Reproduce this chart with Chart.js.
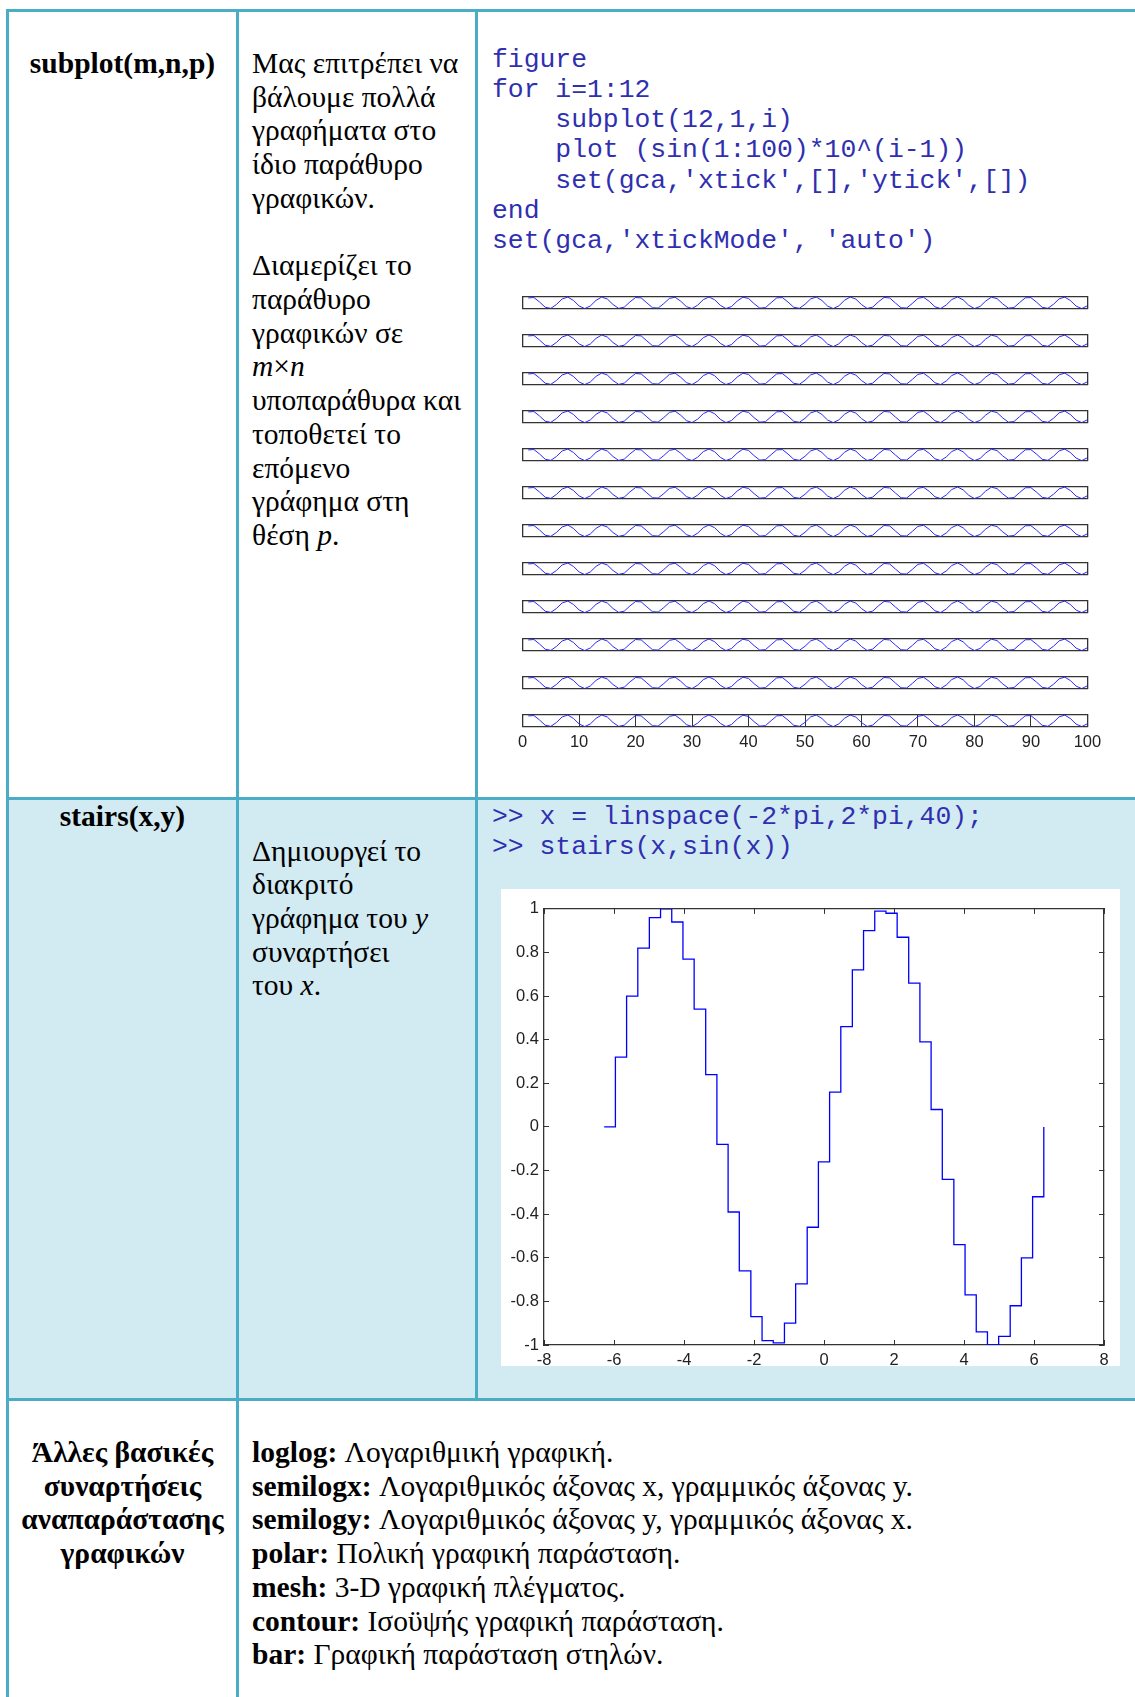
<!DOCTYPE html>
<html>
<head>
<meta charset="utf-8">
<script src="https://cdn.jsdelivr.net/npm/chart.js@4.4.0/dist/chart.umd.min.js"></script>
<style>
body { margin: 0; width: 1135px; height: 1697px; position: relative; overflow: hidden; background: #fff; font-family: "Liberation Serif", "Times New Roman", serif; color: #000; }
.bar { position: absolute; background: #4bacc6; }
.txt { position: absolute; font-size: 29.5px; line-height: 33.72px; white-space: nowrap; }
.ctr { text-align: center; font-weight: bold; }
.code { position: absolute; margin: 0; font-family: "Liberation Mono", "Courier New", monospace; font-size: 26.4px; line-height: 30.3px; color: #2f2fb0; white-space: pre; }
canvas { position: absolute; }
</style>
</head>
<body>
<div class="bar" style="left:9px;top:800px;width:1126px;height:598px;background:#d2eaf1"></div>
<div class="bar" style="left:6px;top:9px;width:1129px;height:3px"></div>
<div class="bar" style="left:6px;top:797px;width:1129px;height:3px"></div>
<div class="bar" style="left:6px;top:1398px;width:1129px;height:3px"></div>
<div class="bar" style="left:6px;top:9px;width:3px;height:1688px"></div>
<div class="bar" style="left:236px;top:9px;width:3px;height:1688px"></div>
<div class="bar" style="left:475px;top:9px;width:3px;height:1391px"></div>

<div class="txt ctr" style="left:9px;width:227px;top:47px">subplot(m,n,p)</div>
<div class="txt" style="left:252px;top:47px">Μας επιτρέπει να<br>βάλουμε πολλά<br>γραφήματα στο<br>ίδιο παράθυρο<br>γραφικών.<br><br>Διαμερίζει το<br>παράθυρο<br>γραφικών σε<br><i>m</i>×<i>n</i><br>υποπαράθυρα και<br>τοποθετεί το<br>επόμενο<br>γράφημα στη<br>θέση <i>p</i>.</div>
<pre class="code" style="left:492px;top:44.5px">figure
for i=1:12
    subplot(12,1,i)
    plot (sin(1:100)*10^(i-1))
    set(gca,'xtick',[],'ytick',[])
end
set(gca,'xtickMode', 'auto')</pre>

<div class="txt ctr" style="left:9px;width:227px;top:800px">stairs(x,y)</div>
<div class="txt" style="left:252px;top:834.6px">Δημιουργεί το<br>διακριτό<br>γράφημα του <i>y</i><br>συναρτήσει<br>του <i>x</i>.</div>
<pre class="code" style="left:492px;top:802px">&gt;&gt; x = linspace(-2*pi,2*pi,40);
&gt;&gt; stairs(x,sin(x))</pre>
<div class="bar" style="left:501px;top:889px;width:619px;height:477px;background:#fff"></div>
<canvas id="stairs" width="619" height="483" style="left:501px;top:889px"></canvas>

<div class="txt ctr" style="left:9px;width:227px;top:1436px">Άλλες βασικές<br>συναρτήσεις<br>αναπαράστασης<br>γραφικών</div>
<div class="txt" style="left:252px;top:1436px"><b>loglog:</b> Λογαριθμική γραφική.<br><b>semilogx:</b> Λογαριθμικός άξονας x, γραμμικός άξονας y.<br><b>semilogy:</b> Λογαριθμικός άξονας y, γραμμικός άξονας x.<br><b>polar:</b> Πολική γραφική παράσταση.<br><b>mesh:</b> 3-D γραφική πλέγματος.<br><b>contour:</b> Ισοϋψής γραφική παράσταση.<br><b>bar:</b> Γραφική παράσταση στηλών.</div>

<script>
// sin(1:100), same shape in all 12 subplots (axes autoscale the 10^(i-1) factor)
const sinVals = [
  0.84, 0.91, 0.14, -0.76, -0.96, -0.28, 0.66, 0.99, 0.41, -0.54,
  -1.00, -0.54, 0.42, 0.99, 0.65, -0.29, -0.96, -0.75, 0.15, 0.91,
  0.84, -0.01, -0.85, -0.91, -0.13, 0.76, 0.96, 0.27, -0.66, -0.99,
  -0.40, 0.55, 1.00, 0.53, -0.43, -0.99, -0.64, 0.30, 0.96, 0.75,
  -0.16, -0.92, -0.83, 0.02, 0.85, 0.90, 0.12, -0.77, -0.95, -0.26,
  0.67, 0.99, 0.40, -0.56, -1.00, -0.52, 0.44, 0.99, 0.64, -0.30,
  -0.97, -0.74, 0.17, 0.92, 0.83, -0.03, -0.86, -0.90, -0.11, 0.77,
  0.95, 0.25, -0.68, -0.99, -0.39, 0.57, 1.00, 0.51, -0.44, -0.99,
  -0.63, 0.31, 0.97, 0.73, -0.18, -0.92, -0.82, 0.04, 0.86, 0.89,
  0.11, -0.78, -0.95, -0.25, 0.68, 0.98, 0.38, -0.57, -1.00, -0.51
];
const subplotCount = 12;
const subplotTicks = [0, 10, 20, 30, 40, 50, 60, 70, 80, 90, 100];

const stairX = [-6.28, -5.96, -5.64, -5.32, -4.99, -4.67, -4.35, -4.03, -3.71, -3.38,
  -3.06, -2.74, -2.42, -2.09, -1.77, -1.45, -1.13, -0.81, -0.48, -0.16,
  0.16, 0.48, 0.81, 1.13, 1.45, 1.77, 2.09, 2.42, 2.74, 3.06,
  3.38, 3.71, 4.03, 4.35, 4.67, 4.99, 5.32, 5.64, 5.96, 6.28];
const stairY = [0, 0.32, 0.60, 0.82, 0.96, 1.00, 0.94, 0.77, 0.54, 0.24,
  -0.08, -0.39, -0.66, -0.87, -0.98, -0.99, -0.90, -0.72, -0.46, -0.16,
  0.16, 0.46, 0.72, 0.90, 0.99, 0.98, 0.87, 0.66, 0.39, 0.08,
  -0.24, -0.54, -0.77, -0.94, -1.00, -0.96, -0.82, -0.60, -0.32, 0];
const stairXTicks = [-8, -6, -4, -2, 0, 2, 4, 6, 8];
const stairYTicks = [-1, -0.8, -0.6, -0.4, -0.2, 0, 0.2, 0.4, 0.6, 0.8, 1];

const edgeColor = '#333';
const tickFont = { family: '"Liberation Sans", Arial, sans-serif', size: 16.5 };

function frame(position, min, max, size, extra) {
    const horiz = position === 'top' || position === 'bottom';
    return Object.assign({
        type: 'linear', position, min, max,
        grid: { display: false },
        ticks: { display: false },
        border: { color: edgeColor, width: 1.3 },
        afterFit: s => { if (horiz) s.height = size; else s.width = size; }
    }, extra || {});
}

function setTicks(list) {
    return s => { s.ticks = list.map(v => ({ value: v })); };
}

const baseOpts = {
    responsive: false, animation: false, events: [],
    plugins: { legend: { display: false }, tooltip: { enabled: false } }
};

// 12 stacked subplots
for (let i = 0; i < subplotCount; i++) {
    const last = i === subplotCount - 1;
    const top = 296.6 + i * 38.05;
    const cv = document.createElement('canvas');
    cv.width = 606; cv.height = last ? 48 : 20;
    cv.style.left = '502px'; cv.style.top = (top - 4) + 'px';
    document.body.appendChild(cv);

    const xExtra = last ? {
        grid: { display: true, drawOnChartArea: true, drawTicks: false, color: edgeColor, lineWidth: 1 },
        ticks: { display: true, autoSkip: false, maxRotation: 0, padding: 6, color: '#222', font: tickFont, callback: v => String(v) },
        afterBuildTicks: setTicks(subplotTicks)
    } : {};

    new Chart(cv, {
        type: 'line',
        data: { datasets: [{ data: sinVals.map((v, k) => ({ x: k + 1, y: v })), borderColor: '#2a2aff', borderWidth: 1, pointRadius: 0, tension: 0 }] },
        options: Object.assign({}, baseOpts, {
            layout: { padding: { left: 20.6, right: 20.6, top: 4, bottom: last ? 0 : 4.4 } },
            scales: {
                x: frame('bottom', 0, 100, last ? 32.4 : 0, xExtra),
                y: frame('left', -1, 1, 0),
                x2: frame('top', 0, 100, 0),
                y2: frame('right', -1, 1, 0)
            }
        })
    });
}

// stairs(x, sin(x))
const inTicks = { display: true, drawOnChartArea: false, drawTicks: true, tickLength: -5, color: edgeColor, lineWidth: 1 };
new Chart(document.getElementById('stairs'), {
    type: 'line',
    data: { datasets: [{ data: stairX.map((x, k) => ({ x, y: stairY[k] })), stepped: 'before', borderColor: '#0000ff', borderWidth: 1.3, pointRadius: 0 }] },
    options: Object.assign({}, baseOpts, {
        layout: { padding: { left: 0, right: 16, top: 15.5, bottom: 0 } },
        scales: {
            x: frame('bottom', -8, 8, 27, {
                grid: inTicks,
                ticks: { display: true, autoSkip: false, maxRotation: 0, padding: 10.5, color: '#222', font: tickFont, callback: v => String(v) },
                afterBuildTicks: setTicks(stairXTicks)
            }),
            y: frame('left', -1, 1, 43, {
                grid: inTicks,
                ticks: { display: true, autoSkip: false, padding: 10, color: '#222', font: tickFont, callback: v => String(v) },
                afterBuildTicks: setTicks(stairYTicks)
            }),
            x2: frame('top', -8, 8, 0, { grid: inTicks, afterBuildTicks: setTicks(stairXTicks) }),
            y2: frame('right', -1, 1, 0, { grid: inTicks, afterBuildTicks: setTicks(stairYTicks) })
        }
    })
});
</script>
</body>
</html>
